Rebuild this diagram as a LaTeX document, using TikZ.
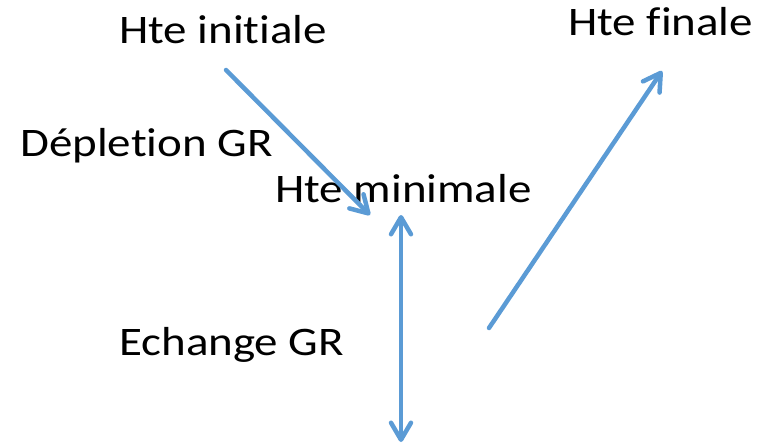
\documentclass[tikz,border=0pt]{standalone}
\usepackage{fontspec}
\setmainfont{Carlito}[Ligatures={NoCommon}]
\usetikzlibrary{arrows.meta}
\definecolor{officeblue}{RGB}{91,155,213}
\newcommand{\wide}[1]{\scalebox{1.16}[1]{#1}}
\tikzset{
  lbl/.style={anchor=base west, inner sep=0pt, font=\fontsize{40.5}{48}\selectfont, text=black},
  conn/.style={draw=officeblue, line width=4.5pt, line cap=round,
    -{Straight Barb[length=17pt, width=20pt, line cap=round, line join=round]}},
  dconn/.style={conn, {Straight Barb[length=17pt, width=20pt, line cap=round, line join=round]}-{Straight Barb[length=17pt, width=20pt, line cap=round, line join=round]}}
}
\begin{document}
\begin{tikzpicture}[x=1pt, y=-1pt]
\useasboundingbox (0,0) rectangle (761,444);
\node[lbl] (init) at (119,44) {\wide{Hte initiale}};
\node[lbl] (fin) at (568,36) {\wide{Hte finale}};
\node[lbl] (depl) at (20,156) {\wide{Dépletion GR}};
\node[lbl] (min) at (275,202) {\wide{Hte minimale}};
\node[lbl] (ech) at (119,355) {\wide{Echange GR}};
\coordinate (a1s) at (226,70);
\coordinate (a1e) at (370,215);
\coordinate (a2s) at (401,215);
\coordinate (a2e) at (401,442);
\coordinate (a3s) at (489,328);
\coordinate (a3e) at (662,71);
\draw[conn] (a1s) -- (a1e);
\draw[dconn] (a2e) -- (a2s);
\draw[conn] (a3s) -- (a3e);
\end{tikzpicture}
\end{document}
